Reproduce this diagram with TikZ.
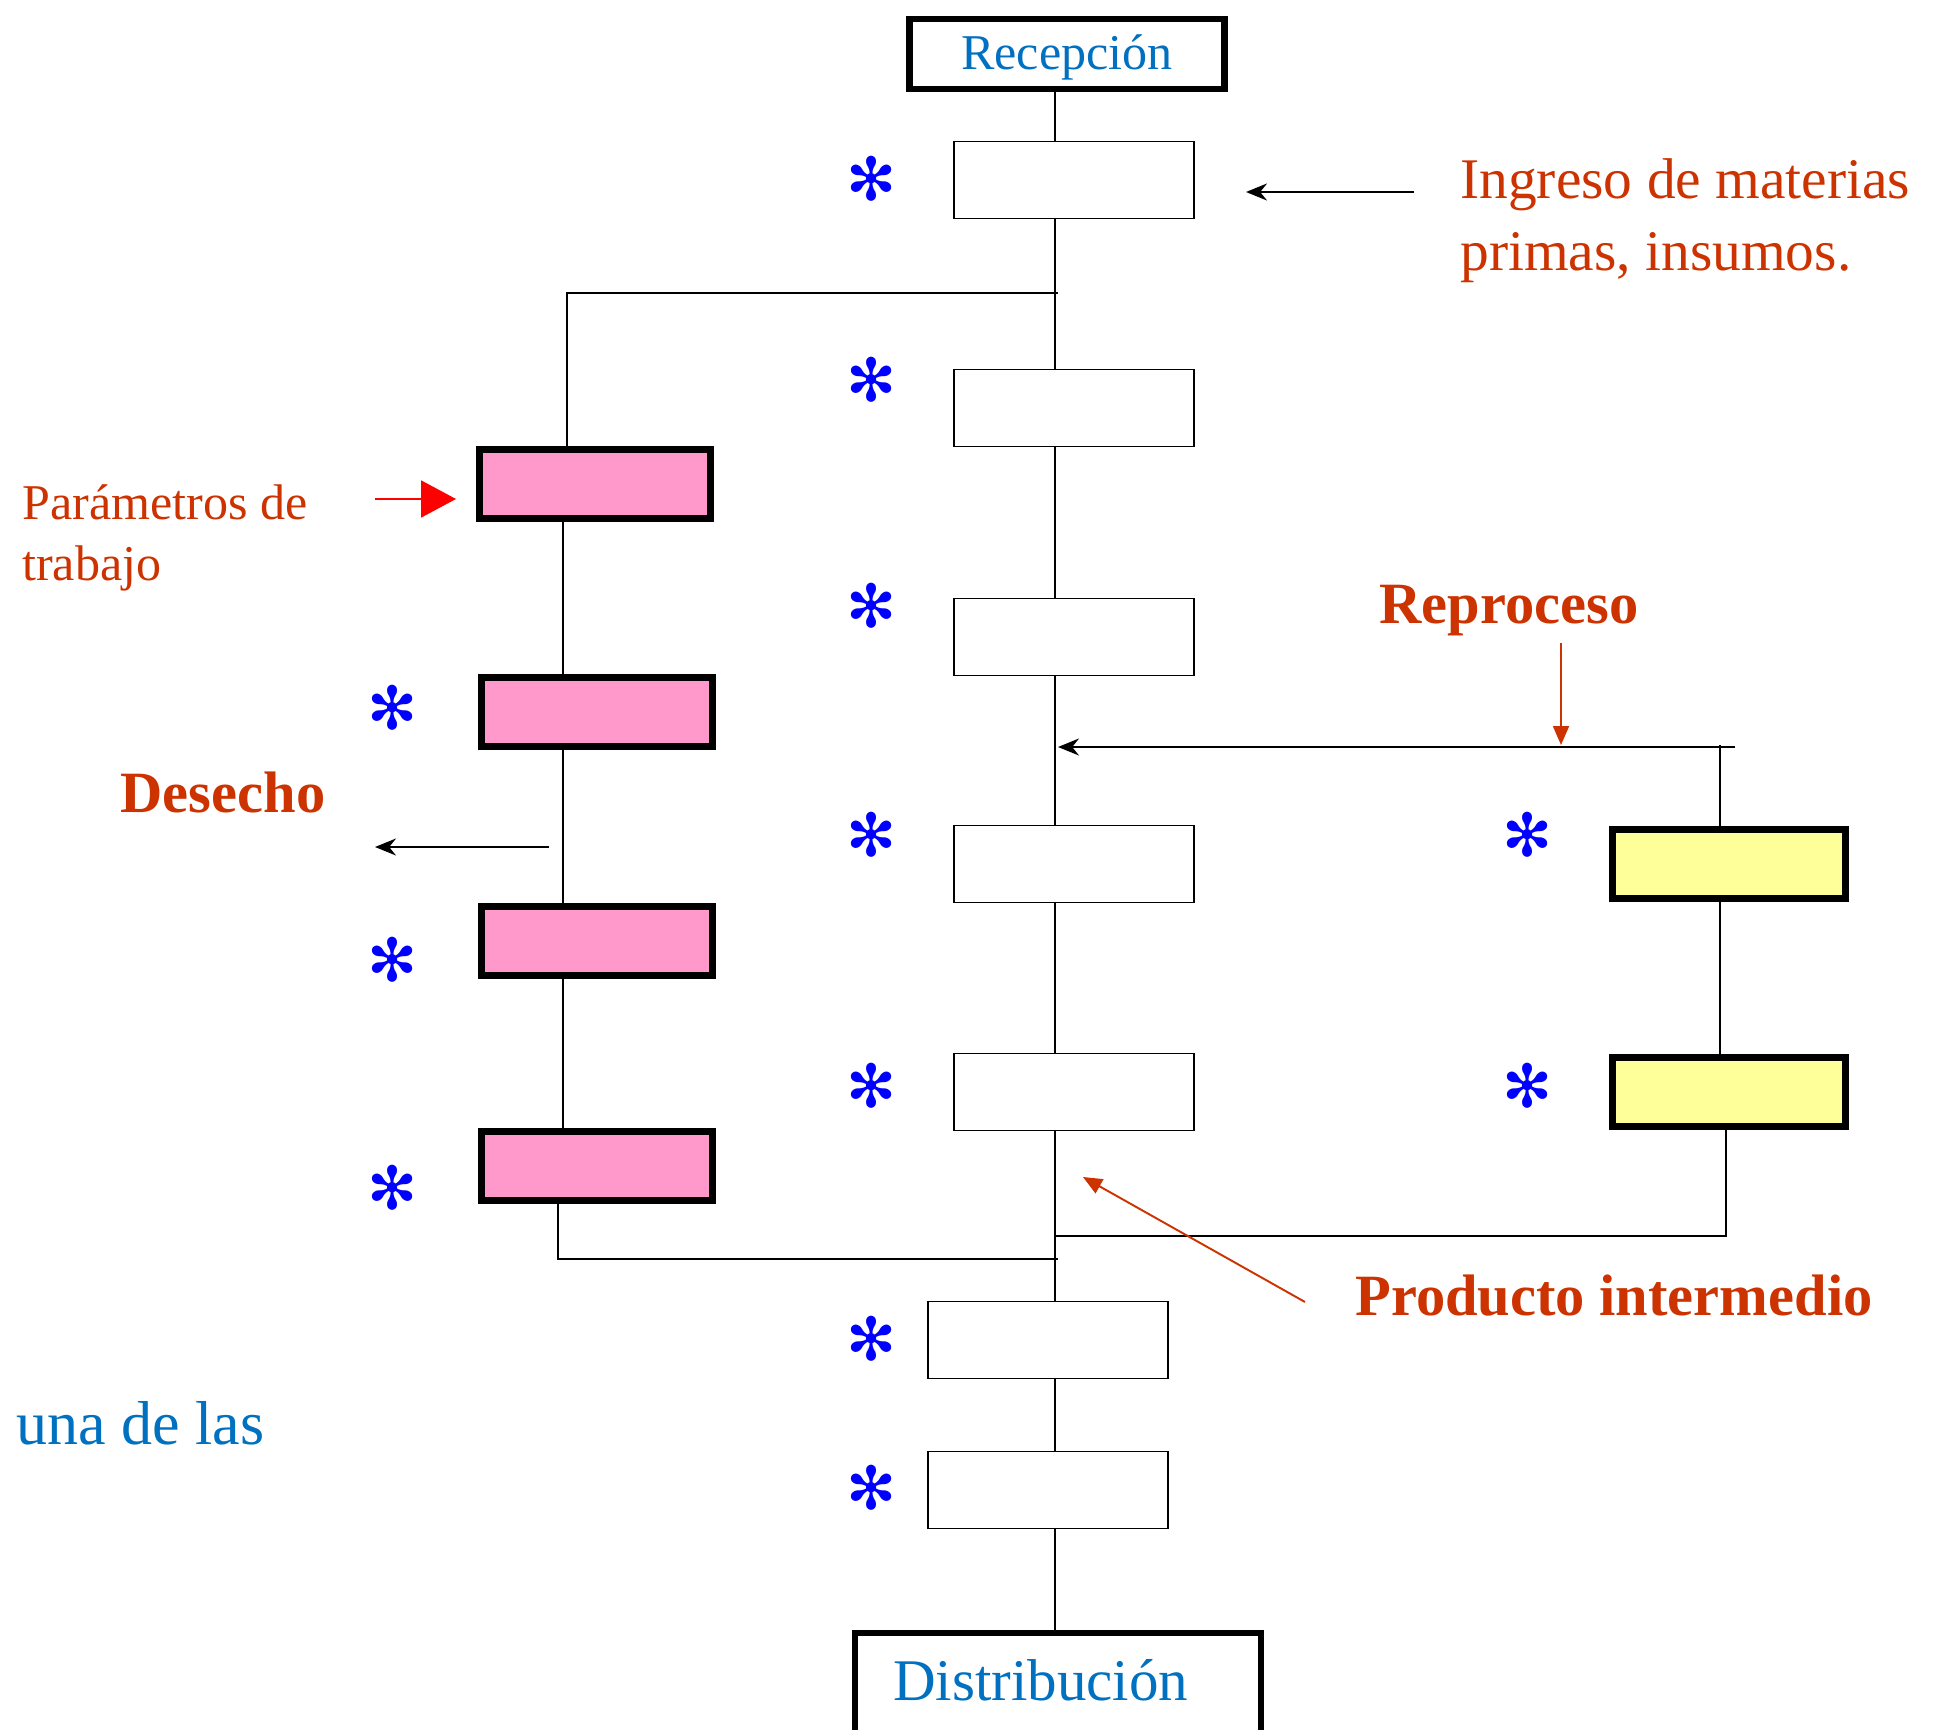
\documentclass[tikz,border=0pt]{standalone}
\usepackage{fontspec}
\setmainfont{Liberation Serif}
\newfontfamily\symfont{DejaVu Sans}
\usetikzlibrary{arrows.meta, positioning, calc}
\definecolor{txtred}{RGB}{204,51,0}
\definecolor{txtblue}{RGB}{0,112,192}
\definecolor{starblue}{RGB}{0,0,255}
\definecolor{pinkfill}{RGB}{255,153,204}
\definecolor{yellowfill}{RGB}{255,255,153}
\tikzset{
  stepbox/.style={rectangle, draw=black, fill=white, line width=0.85pt,
    minimum width=4.8cm, minimum height=1.54cm, inner sep=0pt},
  pinkbox/.style={rectangle, draw=black, fill=pinkfill, line width=4.2pt,
    minimum width=4.62cm, minimum height=1.38cm, inner sep=0pt},
  yellowbox/.style={rectangle, draw=black, fill=yellowfill, line width=4.2pt,
    minimum width=4.66cm, minimum height=1.38cm, inner sep=0pt},
  endbox/.style={rectangle, draw=black, fill=white, line width=3.6pt,
    font=\fontsize{28.5}{34}\selectfont, text=txtblue},
  star/.style={font=\symfont\fontsize{34}{34}\selectfont, text=starblue, inner sep=0pt},
  redlabel/.style={font=\bfseries\fontsize{33.3}{40}\selectfont, text=txtred, inner sep=0pt},
  arrow/.style={-{Stealth[length=0.42cm, width=0.34cm]}, line width=1.2pt, color=black},
  redarrow/.style={-{Triangle[length=0.38cm, width=0.32cm]}, line width=1.1pt, color=txtred},
  line/.style={line width=1.1pt, color=black}
}
\begin{document}
\begin{tikzpicture}[x=0.02cm, y=-0.02cm]
  \useasboundingbox (0,0) rectangle (1940,1730);

  % main column
  \node[endbox, minimum width=6.3cm, minimum height=1.4cm, inner sep=0pt,
    text height=0.75cm, text depth=0.11cm] (rec) at (1067,54) {Recepción};
  \node[stepbox] (b1) at (1074,180) {};
  \node[stepbox] (b2) at (1074,408) {};
  \node[stepbox] (b3) at (1074,637) {};
  \node[stepbox] (b4) at (1074,864) {};
  \node[stepbox] (b5) at (1074,1092) {};
  \node[stepbox] (b6) at (1048,1340) {};
  \node[stepbox] (b7) at (1048,1490) {};
  \node[endbox, anchor=north, font=\fontsize{33.6}{40}\selectfont, text width=6.6cm, align=left,
    inner xsep=0.76cm, inner ysep=0.2cm, text height=1.14cm, text depth=2cm] (dist) at (1058,1630) {Distribución};
  \coordinate (spine) at (1055,0);
  \foreach \a/\b in {rec/b1, b1/b2, b2/b3, b3/b4, b4/b5, b5/b6, b6/b7, b7/dist}
    \draw[line] (\a.south -| spine) -- (\b.north -| spine);

  % left branch
  \node[pinkbox] (p1) at (595,484) {};
  \node[pinkbox] (p2) at (597,712) {};
  \node[pinkbox] (p3) at (597,941) {};
  \node[pinkbox] (p4) at (597,1166) {};
  \coordinate (jtop) at (1058,293);
  \coordinate (ltop) at (567,293);
  \coordinate (lline) at (563,0);
  \coordinate (lbot) at (558,1259);
  \coordinate (jbot) at (1058,1259);
  \draw[line] (jtop) -- (ltop) -- (p1.north -| ltop);
  \foreach \a/\b in {p1/p2, p2/p3, p3/p4}
    \draw[line] (\a.south -| lline) -- (\b.north -| lline);
  \draw[line] (p4.south -| lbot) -- (lbot) -- (jbot);

  % right branch
  \node[yellowbox] (y1) at (1729,864) {};
  \node[yellowbox] (y2) at (1729,1092) {};
  \coordinate (rtop) at (1720,745);
  \coordinate (rend) at (1735,747);
  \coordinate (jret) at (1058,747);
  \coordinate (rbot) at (1726,1236);
  \coordinate (jmid) at (1054,1236);
  \draw[arrow] (rend) -- (jret);
  \draw[line] (rtop) -- (y1.north -| rtop);
  \draw[line] (y1.south -| rtop) -- (y2.north -| rtop);
  \draw[line] (y2.south -| rbot) -- (rbot) -- (jmid);

  % asterisks
  \foreach \n/\x/\y in {s1/872/179, s2/872/380, s3/872/606, s4/872/835, s5/872/1086,
      s6/872/1339, s7/872/1488, s8/393/708, s9/393/960, s10/393/1188, s11/1528/835, s12/1528/1086}
    \node[star] (\n) at (\x,\y) {✻};

  % labels
  \node[anchor=west, align=left, text=txtred, inner sep=0pt,
    font=\fontsize{32.7}{41}\selectfont] (ingreso) at (1460,221) {Ingreso de materias\\primas, insumos.};
  \coordinate (itail) at (1414,192);
  \coordinate (ihead) at (1246,192);
  \draw[arrow] (itail) -- (ihead);

  \node[anchor=west, align=left, text=txtred, inner sep=0pt,
    font=\fontsize{28.5}{34.5}\selectfont] (param) at (22,538) {Parámetros de\\trabajo};
  \coordinate (ptail) at (375,499);
  \coordinate (phead) at (456,499);
  \draw[-{Triangle[length=0.7cm, width=0.74cm]}, line width=1.1pt, red] (ptail) -- (phead);

  \node[redlabel] (desecho) at (223,792) {Desecho};
  \coordinate (dtail) at (549,847);
  \coordinate (dhead) at (375,847);
  \draw[arrow] (dtail) -- (dhead);

  \node[redlabel] (repro) at (1509,611) {Reproceso};
  \coordinate (rtail) at (1561,643);
  \coordinate (rtip) at (1561,745);
  \draw[redarrow] (rtail) -- (rtip);

  \node[redlabel] (prod) at (1614,1296) {Producto intermedio};
  \coordinate (prtail) at (1305,1302);
  \coordinate (prhead) at (1083,1177);
  \draw[redarrow] (prtail) -- (prhead);

  \node[anchor=west, text=txtblue, inner sep=0pt, font=\fontsize{35.3}{40}\selectfont] (una) at (16,1423) {una de las};
\end{tikzpicture}
\end{document}
